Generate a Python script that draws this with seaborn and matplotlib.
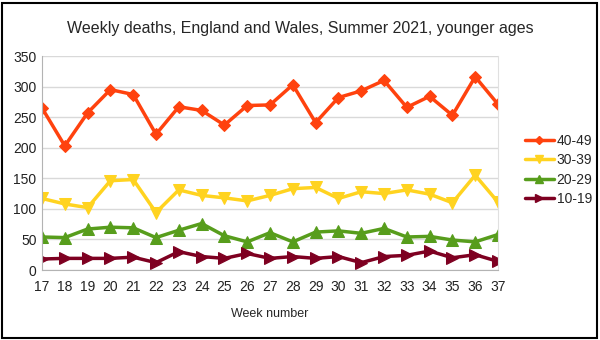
import matplotlib
matplotlib.use("Agg")
import matplotlib.pyplot as plt
import seaborn as sns
import pandas as pd
from matplotlib.patches import Rectangle
from matplotlib.lines import Line2D

weeks = list(range(17, 38))
ages = ["40-49", "30-39", "20-29", "10-19"]
d40_49 = [265, 203, 257, 295, 287, 222, 267, 261, 237, 269, 270, 303, 241, 282, 293, 310, 266, 284, 253, 316, 271]
d30_39 = [117, 108, 102, 146, 148, 94, 131, 122, 118, 113, 122, 133, 135, 117, 128, 125, 131, 124, 110, 155, 111]
d20_29 = [54, 53, 67, 70, 69, 53, 65, 76, 56, 46, 61, 46, 62, 64, 60, 68, 54, 55, 49, 46, 58]
d10_19 = [18, 19, 19, 19, 21, 12, 30, 22, 19, 27, 19, 22, 19, 22, 12, 22, 24, 31, 20, 25, 14]
yticks = [0, 50, 100, 150, 200, 250, 300, 350]

series = {"40-49": d40_49, "30-39": d30_39, "20-29": d20_29, "10-19": d10_19}
rows = []
for age, vals in series.items():
    for w, v in zip(weeks, vals):
        rows.append({"week": w, "deaths": v, "age": age})
df = pd.DataFrame(rows)

colors = {"40-49": "#ff420e", "30-39": "#ffd320", "20-29": "#579d1c", "10-19": "#7e0021"}
markers = {"40-49": "D", "30-39": "v", "20-29": "^", "10-19": ">"}
msize = {"40-49": 6, "30-39": 8, "20-29": 8, "10-19": 8}

sns.set_style("white")
plt.rcParams["font.family"] = ["Liberation Sans", "DejaVu Sans"]

fig = plt.figure(figsize=(6, 3.4), dpi=100)
ax = fig.add_axes([42/600, 70/340, 456/600, 214/340])

for age in ages:
    sub = df[df["age"] == age]
    sns.lineplot(data=sub, x="week", y="deaths", ax=ax, color=colors[age],
                 marker=markers[age], markersize=msize[age], linewidth=2.5,
                 markeredgecolor=colors[age], label=age, legend=False)

ax.set_xlim(17, 37)
ax.set_ylim(0, 350)
ax.set_xticks(weeks)
ax.set_yticks(yticks)
ax.yaxis.grid(True, color="#d9d9d9", linewidth=1)
ax.xaxis.grid(False)
ax.spines["top"].set_visible(False)
ax.spines["right"].set_color("#e0e0e0")
ax.spines["left"].set_color("#b3b3b3")
ax.spines["bottom"].set_color("#b3b3b3")
ax.tick_params(axis="x", length=4, color="#b3b3b3", labelsize=10, pad=3)
ax.tick_params(axis="y", length=0, labelsize=10, pad=4)
for lbl in ax.get_xticklabels() + ax.get_yticklabels():
    lbl.set_color("#222222")
ax.set_xlabel("Week number", fontsize=9, labelpad=10)
ax.set_ylabel("")

fig.text(0.5, 1 - 28/340, "Weekly deaths, England and Wales, Summer 2021, younger ages",
         ha="center", va="center", fontsize=11.5)

handles = [Line2D([0], [0], color=colors[a], marker=markers[a], markersize=msize[a] - 2,
                  linewidth=2.5, markeredgecolor=colors[a]) for a in ages]
fig.legend(handles, ages, loc="center left", bbox_to_anchor=(519/600, 1 - 170/340),
           frameon=False, fontsize=10, handlelength=2.1, labelspacing=0.4,
           handletextpad=0.2, borderaxespad=0)

fig.patches.append(Rectangle((2/600, 2/340), 595/600, 335/340, transform=fig.transFigure,
                             fill=False, edgecolor="black", linewidth=1.5))

fig.savefig("out.png", dpi=100)
